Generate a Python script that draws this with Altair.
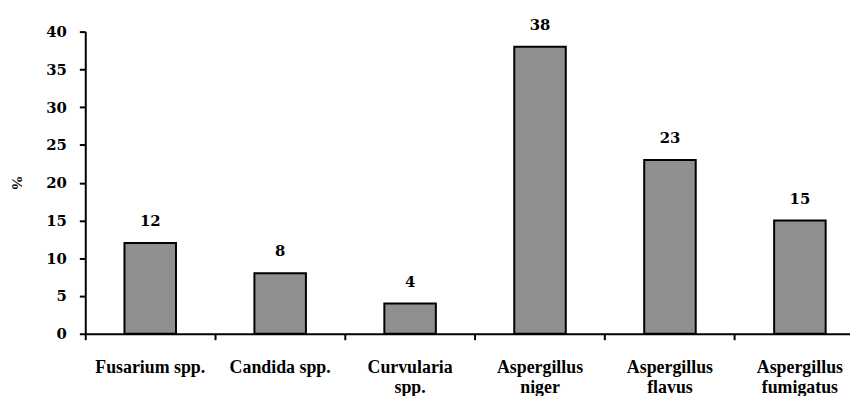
import altair as alt
import pandas as pd

categories = ["Fusarium spp.", "Candida spp.", "Curvularia\nspp.", "Aspergillus\nniger",
              "Aspergillus\nflavus", "Aspergillus\nfumigatus"]
values = [12, 8, 4, 38, 23, 15]
y_ticks = [0, 5, 10, 15, 20, 25, 30, 35, 40]

df = pd.DataFrame({"cat": categories, "val": values})

FONT = "Liberation Serif"
NUMFONT = "DejaVu Serif"
step_total = 787

x = alt.X("cat:N", sort=categories, title=None,
          scale=alt.Scale(range=[0, step_total], paddingInner=0, paddingOuter=0),
          axis=alt.Axis(labelAngle=0, labelExpr="split(datum.label, '\\n')",
                        labelFont=FONT, labelFontSize=18, labelFontWeight="bold",
                        labelColor="black", labelPadding=19, labelLineHeight=20,
                        labelBaseline="top",
                        bandPosition=0, tickSize=6, tickWidth=2, tickColor="black",
                        domainColor="black", domainWidth=2, grid=False, labelBound=False,
                        labelOverlap=False))

y = alt.Y("val:Q", title="%",
          scale=alt.Scale(domain=[0, 40], nice=False),
          axis=alt.Axis(values=y_ticks, labelFont=NUMFONT, labelFontSize=15, labelFontWeight="bold",
                        labelColor="black", labelPadding=13, tickSize=6, tickWidth=2,
                        tickColor="black", domainColor="black", domainWidth=2, grid=False,
                        titleFont=FONT, titleFontSize=15, titleFontWeight="bold",
                        titleColor="black", titlePadding=21))

bars = alt.Chart(df).mark_bar(size=52, color="#8f8f8f", stroke="black", strokeWidth=2).encode(x=x, y=y)
text = alt.Chart(df).mark_text(dy=-14, baseline="bottom", font=NUMFONT, fontSize=15,
                               fontWeight="bold", color="black").encode(x=x, y=y, text="val:Q")

chart = (bars + text).properties(
    width=764, height=305,
    autosize=alt.AutoSizeParams(type="none"),
    padding={"left": 78, "top": 22, "right": 8, "bottom": 61},
    background="white",
).configure_view(stroke=None)

chart.save("out.html", embed_options={"renderer": "svg", "actions": False})
